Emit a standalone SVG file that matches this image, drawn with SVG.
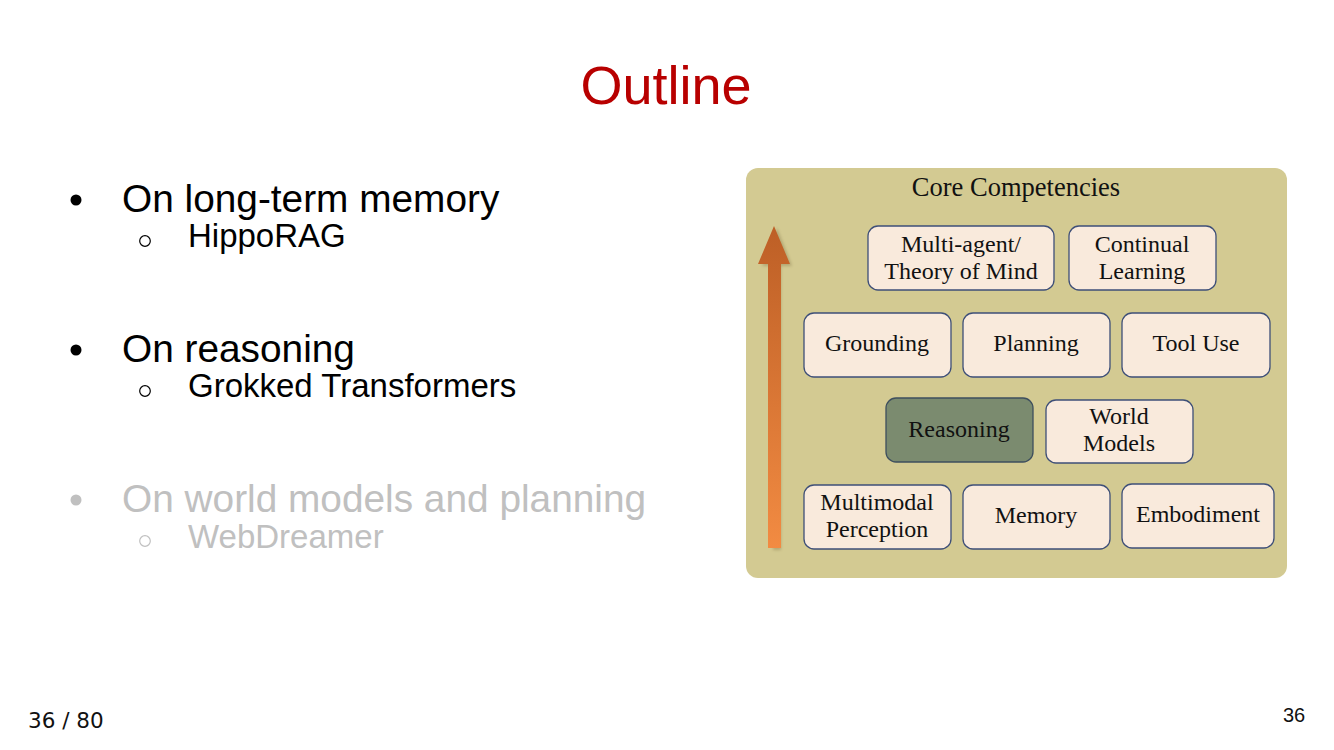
<svg xmlns="http://www.w3.org/2000/svg" width="1334" height="750" viewBox="0 0 1334 750">
  <defs>
    <linearGradient id="arrowGrad" x1="0" y1="0" x2="0" y2="1">
      <stop offset="0" stop-color="#bd5f26"/>
      <stop offset="1" stop-color="#f28b42"/>
    </linearGradient>
    <filter id="soft" x="-20%" y="-20%" width="140%" height="140%">
      <feGaussianBlur stdDeviation="1.5"/>
    </filter>
  </defs>
  <style>
    .title { font-family: "Liberation Sans", Arial, sans-serif; font-size: 54px; fill: #b80000; }
    .main { font-family: "Liberation Sans", Arial, sans-serif; font-size: 38.8px; fill: #000; }
    .sub { font-family: "Liberation Sans", Arial, sans-serif; font-size: 33px; fill: #000; }
    .dim { fill: #c0c0c0; }
    .dot { fill: #000; }
    .ring { fill: none; stroke: #000; stroke-width: 1.2; }
    .dimdot { fill: #c0c0c0; }
    .dimring { fill: none; stroke: #c0c0c0; stroke-width: 1.2; }
    .panel { fill: #d3ca92; }
    .box { fill: #f9eadc; stroke: #3e4f78; stroke-width: 1.3; }
    .boxdark { fill: #7b8b6f; stroke: #3e4f5e; stroke-width: 1.3; }
    .lbl { font-family: "Liberation Serif", "Times New Roman", serif; font-size: 24px; fill: #111; text-anchor: middle; }
    .head { font-family: "Liberation Serif", "Times New Roman", serif; font-size: 26.5px; fill: #111; text-anchor: middle; }
    .foot { font-family: "DejaVu Sans", sans-serif; font-size: 21.5px; fill: #111; }
    .pg { font-family: "Liberation Sans", Arial, sans-serif; font-size: 20px; fill: #111; }
  </style>

  <rect width="1334" height="750" fill="#ffffff"/>

  <text class="title" x="666" y="104" text-anchor="middle">Outline</text>

  <!-- bullet list -->
  <g id="bullets">
    <circle class="dot" cx="76" cy="200" r="5.5"/>
    <text class="main" x="122" y="212">On long-term memory</text>
    <circle class="ring" cx="145" cy="241" r="5.3"/>
    <text class="sub" x="188" y="247">HippoRAG</text>

    <circle class="dot" cx="76" cy="350" r="5.5"/>
    <text class="main" x="122" y="362">On reasoning</text>
    <circle class="ring" cx="145" cy="391" r="5.3"/>
    <text class="sub" x="188" y="397">Grokked Transformers</text>

    <circle class="dimdot" cx="76" cy="500" r="5.5"/>
    <text class="main dim" x="122" y="512">On world models and planning</text>
    <circle class="dimring" cx="145" cy="541" r="5.3"/>
    <text class="sub dim" x="188" y="548">WebDreamer</text>
  </g>

  <!-- competency panel -->
  <g id="panel">
    <rect class="panel" x="746" y="168" width="541" height="410" rx="12"/>
    <text class="head" x="1016" y="196">Core Competencies</text>
  </g>

  <!-- upward arrow -->
  <g id="connectors">
    <path d="M770,264 L759,264 L774,226 L789,264 L778,264 L778,548 L770,548 Z" fill="#8a7d50" opacity="0.45" filter="url(#soft)" transform="translate(3,2)"/>
    <path d="M768,264 L758,264 L774,226 L790,264 L781,264 L781,548 L768,548 Z" fill="url(#arrowGrad)"/>
  </g>

  <g id="multiagent">
    <rect class="box" x="868" y="226" width="186" height="64" rx="10"/>
    <text class="lbl" x="961" y="252">Multi-agent/</text>
    <text class="lbl" x="961" y="279">Theory of Mind</text>
  </g>
  <g id="continual">
    <rect class="box" x="1069" y="226" width="147" height="64" rx="10"/>
    <text class="lbl" x="1142" y="252">Continual</text>
    <text class="lbl" x="1142" y="279">Learning</text>
  </g>
  <g id="grounding">
    <rect class="box" x="804" y="313" width="147" height="64" rx="10"/>
    <text class="lbl" x="877" y="351">Grounding</text>
  </g>
  <g id="planning">
    <rect class="box" x="963" y="313" width="147" height="64" rx="10"/>
    <text class="lbl" x="1036" y="351">Planning</text>
  </g>
  <g id="tooluse">
    <rect class="box" x="1122" y="313" width="148" height="64" rx="10"/>
    <text class="lbl" x="1196" y="351">Tool Use</text>
  </g>
  <g id="reasoning">
    <rect class="boxdark" x="886" y="398" width="147" height="64" rx="10"/>
    <text class="lbl" x="959" y="437">Reasoning</text>
  </g>
  <g id="worldmodels">
    <rect class="box" x="1046" y="400" width="147" height="63" rx="10"/>
    <text class="lbl" x="1119" y="424">World</text>
    <text class="lbl" x="1119" y="451">Models</text>
  </g>
  <g id="perception">
    <rect class="box" x="804" y="485" width="147" height="64" rx="10"/>
    <text class="lbl" x="877" y="510">Multimodal</text>
    <text class="lbl" x="877" y="537">Perception</text>
  </g>
  <g id="memory">
    <rect class="box" x="963" y="485" width="147" height="64" rx="10"/>
    <text class="lbl" x="1036" y="523">Memory</text>
  </g>
  <g id="embodiment">
    <rect class="box" x="1122" y="484" width="152" height="64" rx="10"/>
    <text class="lbl" x="1198" y="522">Embodiment</text>
  </g>

  <!-- footers -->
  <text class="foot" x="28" y="728">36 / 80</text>
  <text class="pg" x="1294" y="722" text-anchor="middle">36</text>
</svg>
